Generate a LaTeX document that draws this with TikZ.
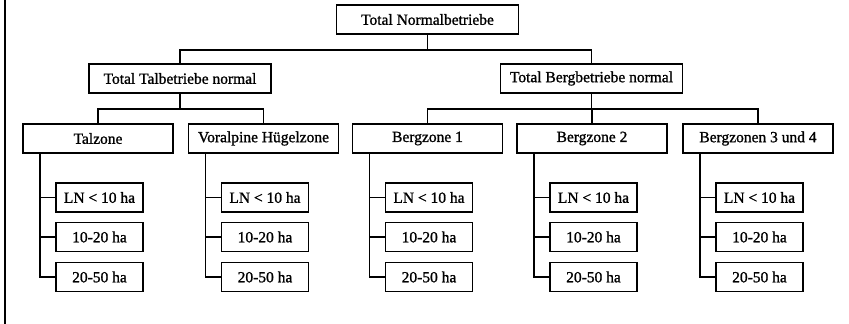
\documentclass[tikz,border=0pt]{standalone}
\usepackage{fontspec}
\setmainfont{Liberation Serif}
\newfontface\scanfont{Liberation Serif}[FakeBold=1.2]
\usetikzlibrary{
    calc,       % For coordinate calculations
    positioning % For relative placement
}

\begin{document}
\begin{tikzpicture}[
    x=1pt, y=-1pt, % one unit = one pixel of the scan, y downwards
    line/.style={line width=1.6pt},  % Style for connectors
    box/.style={draw, line width=1.6pt, inner sep=0pt, minimum height=29pt,
        font=\scanfont\fontsize{15.5}{18}\selectfont}, % Base style for boxes
    totalbox/.style={box, minimum width=182pt},
    zonebox/.style={box, minimum width=150pt},
    leafbox/.style={box, minimum width=87pt}
]
    \useasboundingbox (0,0) rectangle (849,324);

    % Left frame line
    \draw[line] (5,0) -- (5,324);

    % Totals
    \node[totalbox] (total) at (427.5, 19.5) {Total Normalbetriebe};
    \node[totalbox] (tal)   at (180, 78.5)   {Total Talbetriebe normal};
    \node[totalbox] (berg)  at (591.5, 78.5) {Total Bergbetriebe normal};

    % Zones
    \node[zonebox] (tz)   at (98, 138.5)    {Talzone};
    \node[zonebox] (vhz)  at (263.5, 138.5) {Voralpine Hügelzone};
    \node[zonebox] (bz1)  at (427.5, 138.5) {Bergzone 1};
    \node[zonebox] (bz2)  at (592, 138.5)   {Bergzone 2};
    \node[zonebox] (bz34) at (758, 138.5)   {Bergzonen 3 und 4};

    % Tree lines between totals and zones
    \draw[line] (total.south) -- ++(0,15) -| (tal.north);
    \draw[line] (total.south) -- ++(0,15) -| (berg.north);
    \draw[line] (tal.south) -- ++(0,15) -| (tz.north);
    \draw[line] (tal.south) -- ++(0,15) -| (vhz.north);
    \draw[line] (berg.south) -- ++(0,15) -| (bz1.north);
    \draw[line] (berg.south) -- ++(0,15) -| (bz2.north);
    \draw[line] (berg.south) -- ++(0,15) -| (bz34.north);

    % Size classes: Talzone
    \node[leafbox] (tz-a) at (99.5, 197.5) {LN < 10 ha};
    \node[leafbox] (tz-b) at (99.5, 237)   {10-20 ha};
    \node[leafbox] (tz-c) at (99.5, 277)   {20-50 ha};
    \coordinate (tz-s) at ([xshift=-58pt]tz.south);
    \draw[line] (tz-s) |- (tz-a.west);
    \draw[line] (tz-s) |- (tz-b.west);
    \draw[line] (tz-s) |- (tz-c.west);

    % Size classes: Voralpine Hügelzone
    \node[leafbox] (vhz-a) at (265, 197.5) {LN < 10 ha};
    \node[leafbox] (vhz-b) at (265, 237)   {10-20 ha};
    \node[leafbox] (vhz-c) at (265, 277)   {20-50 ha};
    \coordinate (vhz-s) at ([xshift=-58pt]vhz.south);
    \draw[line] (vhz-s) |- (vhz-a.west);
    \draw[line] (vhz-s) |- (vhz-b.west);
    \draw[line] (vhz-s) |- (vhz-c.west);

    % Size classes: Bergzone 1
    \node[leafbox] (bz1-a) at (429, 197.5) {LN < 10 ha};
    \node[leafbox] (bz1-b) at (429, 237)   {10-20 ha};
    \node[leafbox] (bz1-c) at (429, 277)   {20-50 ha};
    \coordinate (bz1-s) at ([xshift=-58pt]bz1.south);
    \draw[line] (bz1-s) |- (bz1-a.west);
    \draw[line] (bz1-s) |- (bz1-b.west);
    \draw[line] (bz1-s) |- (bz1-c.west);

    % Size classes: Bergzone 2
    \node[leafbox] (bz2-a) at (593.5, 197.5) {LN < 10 ha};
    \node[leafbox] (bz2-b) at (593.5, 237)   {10-20 ha};
    \node[leafbox] (bz2-c) at (593.5, 277)   {20-50 ha};
    \coordinate (bz2-s) at ([xshift=-58pt]bz2.south);
    \draw[line] (bz2-s) |- (bz2-a.west);
    \draw[line] (bz2-s) |- (bz2-b.west);
    \draw[line] (bz2-s) |- (bz2-c.west);

    % Size classes: Bergzonen 3 und 4
    \node[leafbox] (bz34-a) at (759.5, 197.5) {LN < 10 ha};
    \node[leafbox] (bz34-b) at (759.5, 237)   {10-20 ha};
    \node[leafbox] (bz34-c) at (759.5, 277)   {20-50 ha};
    \coordinate (bz34-s) at ([xshift=-58pt]bz34.south);
    \draw[line] (bz34-s) |- (bz34-a.west);
    \draw[line] (bz34-s) |- (bz34-b.west);
    \draw[line] (bz34-s) |- (bz34-c.west);

\end{tikzpicture}
\end{document}
